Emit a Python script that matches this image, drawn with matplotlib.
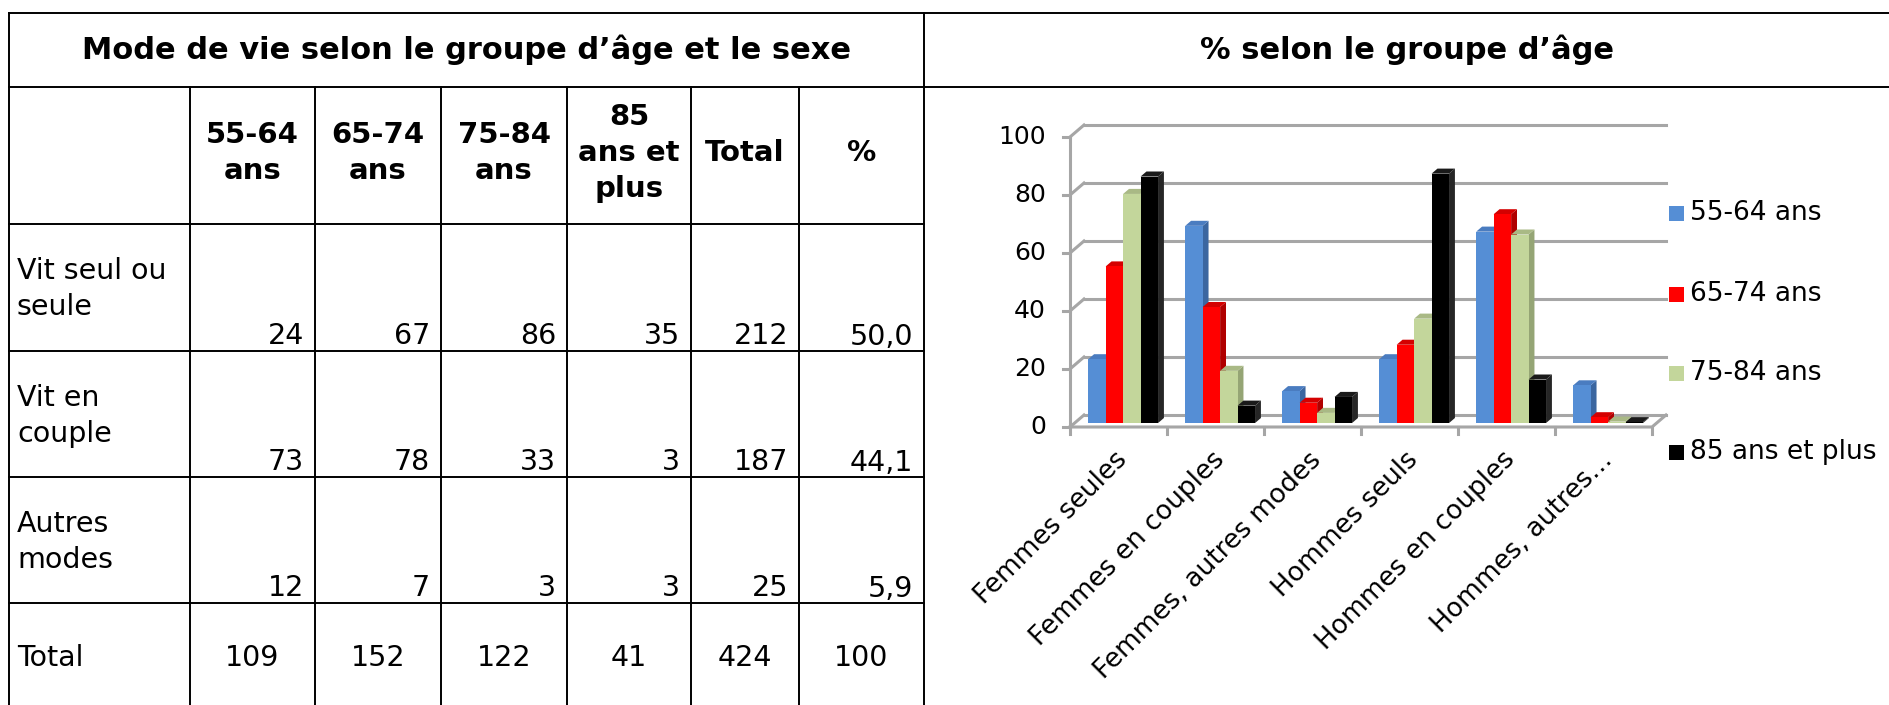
import matplotlib.pyplot as plt
from matplotlib.patches import Polygon, Rectangle

plt.rcParams['font.family'] = ['DejaVu Sans']

# ---- table data ----
table_title = "Mode de vie selon le groupe d’âge et le sexe"
col_headers = ["55-64\nans", "65-74\nans", "75-84\nans", "85\nans et\nplus", "Total", "%"]
row_labels = ["Vit seul ou\nseule", "Vit en\ncouple", "Autres\nmodes"]
row_seul = ["24", "67", "86", "35", "212", "50,0"]
row_couple = ["73", "78", "33", "3", "187", "44,1"]
row_autres = ["12", "7", "3", "3", "25", "5,9"]
row_total = ["109", "152", "122", "41", "424", "100"]

# ---- chart data ----
chart_title = "% selon le groupe d’âge"
categories = ["Femmes seules", "Femmes en couples", "Femmes, autres modes",
              "Hommes seuls", "Hommes en couples", "Hommes, autres…"]
series_names = ["55-64 ans", "65-74 ans", "75-84 ans", "85 ans et plus"]
age_55_64 = [22, 68, 11, 22, 66, 13]
age_65_74 = [54, 40, 7, 27, 72, 2]
age_75_84 = [79, 18, 3.5, 36, 65, 0.5]
age_85_plus = [85, 6, 9, 86, 15, 0.3]
yticks = [0, 20, 40, 60, 80, 100]

front = ["#558ed5", "#ff0000", "#c3d69b", "#000000"]
top = ["#4a7cc0", "#d40000", "#a9b985", "#1a1a1a"]
side = ["#3b66a0", "#b00000", "#95a575", "#262626"]

fig = plt.figure(figsize=(18.9, 7.05), dpi=100)
base = fig.add_axes([0, 0, 1, 1])
base.set_xlim(0, 1890)
base.set_ylim(705, 0)
base.axis('off')

# ---- table grid (pixel coords) ----
lw = 1.4
col_x = [9, 190, 315, 441, 567, 691, 799, 924]
row_y = [87, 224, 351, 477, 603]
base.plot([9, 1890], [13, 13], color='black', lw=lw)
base.plot([9, 1890], [87, 87], color='black', lw=lw)
base.plot([9, 9], [13, 705], color='black', lw=lw)
base.plot([924, 924], [13, 705], color='black', lw=lw)
for x in col_x[1:-1]:
    base.plot([x, x], [87, 705], color='black', lw=lw)
for y in row_y[1:]:
    base.plot([9, 924], [y, y], color='black', lw=lw)

base.text(466, 50, table_title, ha='center', va='center', fontsize=22, fontweight='bold')
base.text(1407, 50, chart_title, ha='center', va='center', fontsize=22, fontweight='bold')

for i, h in enumerate(col_headers):
    cx = (col_x[i + 1] + col_x[i + 2]) / 2
    base.text(cx, 153, h, ha='center', va='center', fontsize=21,
              fontweight='bold', linespacing=1.37)

for r, (lab, vals) in enumerate(zip(row_labels, [row_seul, row_couple, row_autres])):
    y0, y1 = row_y[r + 1], row_y[r + 2]
    base.text(17, y0 + 65, lab, ha='left', va='center', fontsize=20.5, linespacing=1.35)
    for i, v in enumerate(vals):
        base.text(col_x[i + 2] - 11, y1 - 14.5, v, ha='right', va='center', fontsize=20.5)

base.text(17, 658, "Total", ha='left', va='center', fontsize=20.5)
for i, v in enumerate(row_total):
    base.text((col_x[i + 1] + col_x[i + 2]) / 2, 658, v, ha='center', va='center', fontsize=20.5)

# ---- pseudo 3D column chart ----
ax = fig.add_axes([1070 / 1890, (705 - 427) / 705, 582 / 1890, 290 / 705])
ax.set_xlim(0, 6)
ax.set_ylim(0, 100)
ax.axis('off')

DX, DY = 14 / 97, 12 / 2.9      # depth of the floor, in data units
grid_c = '#a6a6a6'
for v in yticks:
    ax.plot([DX, 6 + DX], [v + DY, v + DY], color=grid_c, lw=2.2, clip_on=False, zorder=1)
    ax.plot([0, DX], [v, v + DY], color=grid_c, lw=2.2, clip_on=False, zorder=1)
    ax.plot([-7 / 97, 0], [v, v], color=grid_c, lw=2.2, clip_on=False, zorder=1)
    base.text(1046, 427 - v * 2.9, str(v), ha='right', va='center', fontsize=18)
ax.plot([0, 0], [0, 100], color=grid_c, lw=2.2, clip_on=False, zorder=1)
ax.plot([0, 6, 6 + DX], [0, 0, DY], color=grid_c, lw=2.2, clip_on=False, zorder=1)
for c in range(7):
    ax.plot([c, c], [0, -7 / 2.9], color=grid_c, lw=2.2, clip_on=False, zorder=1)

t0, t1 = 0.33, 0.75
w = 0.18
series = [age_55_64, age_65_74, age_75_84, age_85_plus]
z = 5
for c in range(len(categories)):
    for s, vals in enumerate(series):
        v = vals[c]
        xl = c + 0.14 + t0 * DX + s * w
        xr = xl + w
        yb = t0 * DY
        ddx, ddy = (t1 - t0) * DX, (t1 - t0) * DY
        ax.add_patch(Polygon([(xr, yb), (xr, yb + v), (xr + ddx, yb + v + ddy), (xr + ddx, yb + ddy)],
                             closed=True, fc=side[s], ec='none', clip_on=False, zorder=z))
        ax.add_patch(Polygon([(xl, yb + v), (xr, yb + v), (xr + ddx, yb + v + ddy), (xl + ddx, yb + v + ddy)],
                             closed=True, fc=top[s], ec='none', clip_on=False, zorder=z))
        ax.add_patch(Rectangle((xl, yb), w, v, fc=front[s], ec='none', clip_on=False, zorder=z + 0.5))
        z += 1

for c, lab in enumerate(categories):
    ax.text(c + 0.55, -10, lab, rotation=45, rotation_mode='anchor', ha='right', va='center',
            fontsize=19)

# ---- legend ----
for s, name in enumerate(series_names):
    yc = [213, 294, 373, 452][s]
    base.add_patch(Rectangle((1669, yc - 7.5), 15, 15, fc=front[s], ec='none'))
    base.text(1690, yc, name, ha='left', va='center', fontsize=19)

fig.savefig("out.png", dpi=100)
